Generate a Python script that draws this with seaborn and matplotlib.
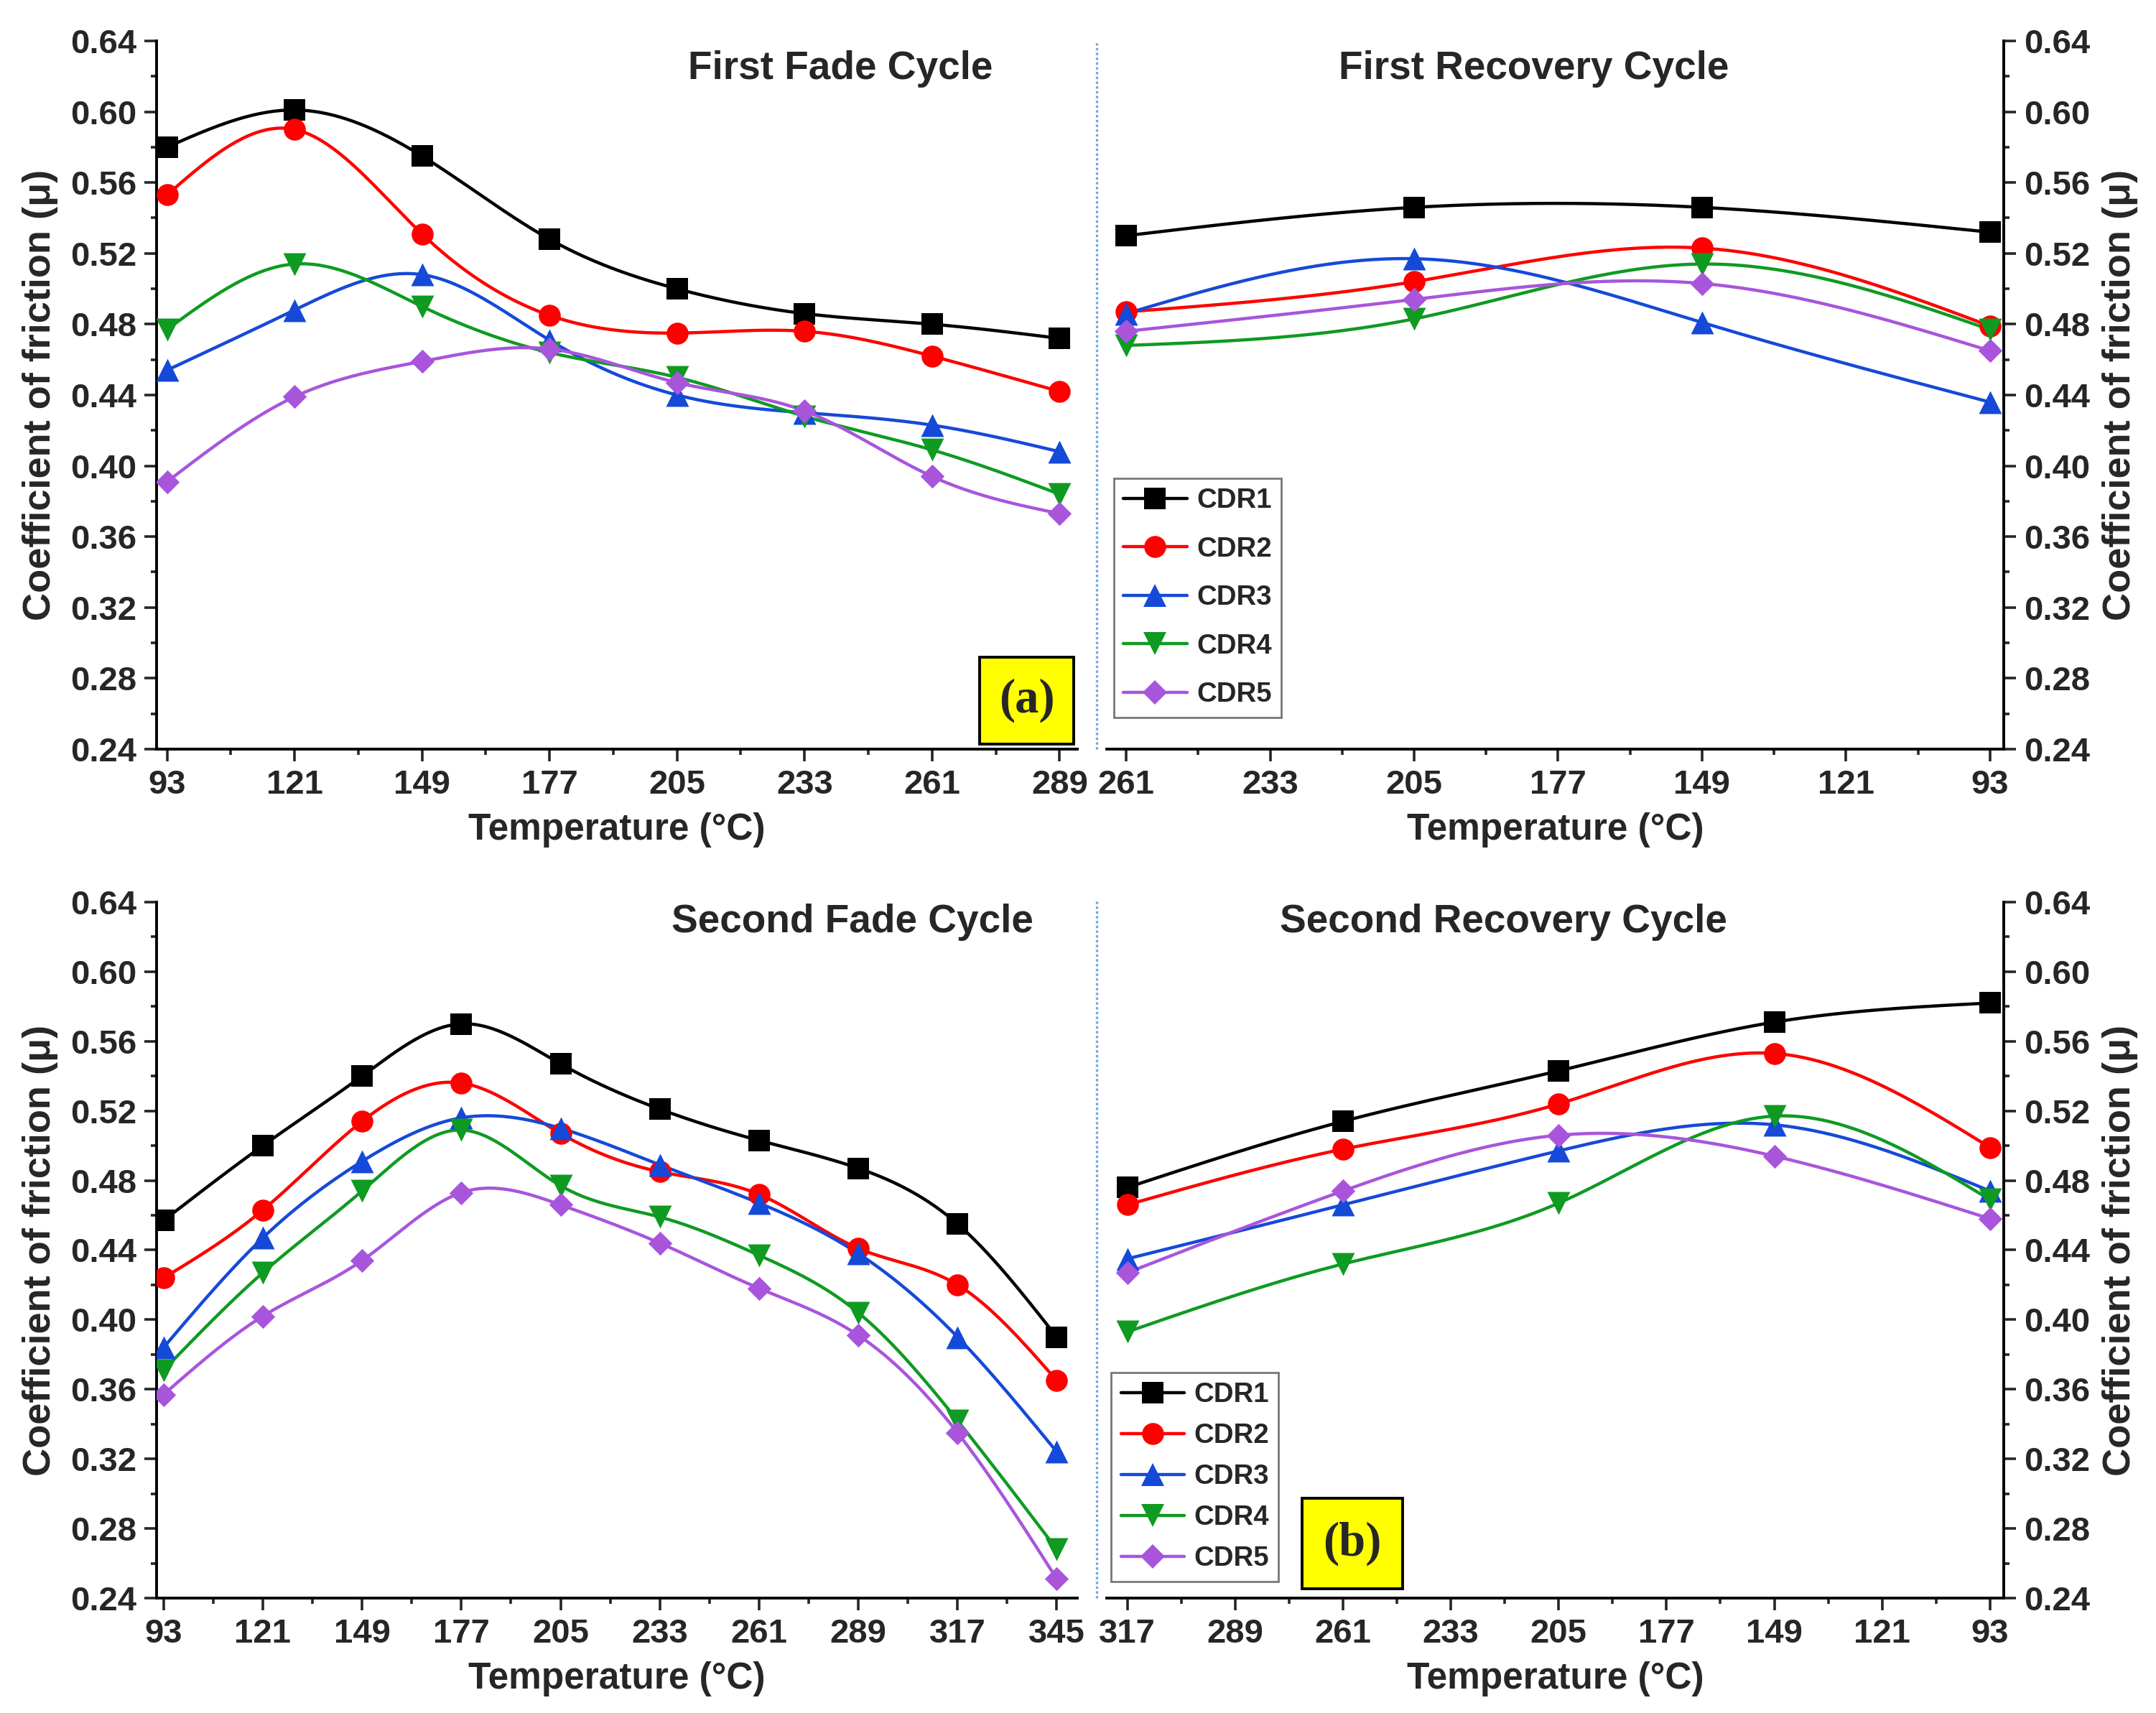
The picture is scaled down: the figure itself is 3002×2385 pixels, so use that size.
import numpy as np
import pandas as pd
import matplotlib
matplotlib.use('Agg')
import matplotlib.pyplot as plt
import seaborn as sns
from matplotlib.lines import Line2D
from matplotlib.patches import Rectangle
from matplotlib.ticker import FixedLocator, FormatStrFormatter, MultipleLocator

# ---- data ----
series_names = ['CDR1', 'CDR2', 'CDR3', 'CDR4', 'CDR5']

temp_fade1 = [93, 121, 149, 177, 205, 233, 261, 289]
fade1_cdr1 = [0.580, 0.601, 0.575, 0.528, 0.500, 0.486, 0.480, 0.472]
fade1_cdr2 = [0.553, 0.590, 0.531, 0.485, 0.475, 0.476, 0.462, 0.442]
fade1_cdr3 = [0.454, 0.488, 0.508, 0.471, 0.440, 0.430, 0.423, 0.408]
fade1_cdr4 = [0.477, 0.514, 0.490, 0.464, 0.450, 0.428, 0.409, 0.384]
fade1_cdr5 = [0.391, 0.439, 0.459, 0.466, 0.447, 0.431, 0.394, 0.373]

temp_rec1 = [261, 205, 149, 93]
rec1_cdr1 = [0.530, 0.546, 0.546, 0.532]
rec1_cdr2 = [0.487, 0.504, 0.523, 0.479]
rec1_cdr3 = [0.486, 0.517, 0.481, 0.436]
rec1_cdr4 = [0.468, 0.483, 0.514, 0.477]
rec1_cdr5 = [0.476, 0.494, 0.503, 0.465]

temp_fade2 = [93, 121, 149, 177, 205, 233, 261, 289, 317, 345]
fade2_cdr1 = [0.457, 0.500, 0.540, 0.570, 0.547, 0.521, 0.503, 0.487, 0.455, 0.390]
fade2_cdr2 = [0.424, 0.463, 0.514, 0.536, 0.507, 0.485, 0.472, 0.441, 0.420, 0.365]
fade2_cdr3 = [0.384, 0.447, 0.491, 0.516, 0.510, 0.489, 0.467, 0.438, 0.390, 0.324]
fade2_cdr4 = [0.371, 0.427, 0.474, 0.509, 0.477, 0.459, 0.437, 0.404, 0.342, 0.268]
fade2_cdr5 = [0.357, 0.402, 0.434, 0.473, 0.466, 0.444, 0.418, 0.391, 0.335, 0.251]

temp_rec2 = [317, 261, 205, 149, 93]
rec2_cdr1 = [0.476, 0.514, 0.543, 0.571, 0.582]
rec2_cdr2 = [0.466, 0.498, 0.524, 0.553, 0.499]
rec2_cdr3 = [0.435, 0.466, 0.497, 0.512, 0.474]
rec2_cdr4 = [0.393, 0.432, 0.467, 0.517, 0.469]
rec2_cdr5 = [0.427, 0.474, 0.506, 0.494, 0.458]

colors = ['#000000', '#ff0000', '#1549d8', '#0f9a22', '#a855dc']
markers = ['s', 'o', '^', 'v', 'D']
msizes = [10.5, 11, 11.5, 11.5, 8.5]

sns.set_theme(style='ticks')
plt.rcParams['font.family'] = ['Liberation Sans', 'DejaVu Sans']
plt.rcParams['font.weight'] = 'bold'
plt.rcParams['axes.labelweight'] = 'bold'


def spline_curve(x, y, n=300):
    """natural cubic spline through the points (Origin style connector)"""
    x = np.asarray(x, float)
    y = np.asarray(y, float)
    order = np.argsort(x)
    x, y = x[order], y[order]
    k = len(x)
    h = np.diff(x)
    A = np.zeros((k, k))
    r = np.zeros(k)
    A[0, 0] = A[-1, -1] = 1
    for i in range(1, k - 1):
        A[i, i - 1] = h[i - 1]
        A[i, i] = 2 * (h[i - 1] + h[i])
        A[i, i + 1] = h[i]
        r[i] = 6 * ((y[i + 1] - y[i]) / h[i] - (y[i] - y[i - 1]) / h[i - 1])
    M = np.linalg.solve(A, r)
    xs = np.linspace(x[0], x[-1], n)
    idx = np.clip(np.searchsorted(x, xs) - 1, 0, k - 2)
    x0, x1 = x[idx], x[idx + 1]
    hh = x1 - x0
    t0, t1 = x1 - xs, xs - x0
    ys = (M[idx] * t0 ** 3 / (6 * hh) + M[idx + 1] * t1 ** 3 / (6 * hh)
          + (y[idx] / hh - M[idx] * hh / 6) * t0
          + (y[idx + 1] / hh - M[idx + 1] * hh / 6) * t1)
    return xs, ys


def draw_panel(ax, temps, series, xlim, ticks, side, title, title_x, title_y):
    for vals, c, m, ms in zip(series, colors, markers, msizes):
        xs, ys = spline_curve(temps, vals)
        sns.lineplot(x=xs, y=ys, ax=ax, color=c, lw=1.6, sort=False,
                     estimator=None, legend=False, zorder=2)
        sns.scatterplot(x=temps, y=vals, ax=ax, marker=m, s=ms ** 2, color=c,
                        edgecolor=c, linewidth=0, legend=False, zorder=3)

    ax.set_xlim(*xlim)
    ax.set_ylim(0.24, 0.64)
    ax.xaxis.set_major_locator(FixedLocator(ticks))
    ax.xaxis.set_minor_locator(FixedLocator(np.arange(79, 360, 28)))
    ax.yaxis.set_major_locator(MultipleLocator(0.04))
    ax.yaxis.set_minor_locator(MultipleLocator(0.02))
    ax.yaxis.set_major_formatter(FormatStrFormatter('%.2f'))
    ax.tick_params(which='major', direction='out', length=6, width=1.3,
                   labelsize=17, pad=4)
    ax.tick_params(which='minor', direction='out', length=3, width=1.3)
    for lab in ax.get_xticklabels() + ax.get_yticklabels():
        lab.set_fontweight('bold')

    ax.spines['top'].set_visible(False)
    if side == 'left':
        ax.spines['right'].set_visible(False)
    else:
        ax.spines['left'].set_visible(False)
        ax.yaxis.tick_right()
        ax.yaxis.set_label_position('right')
    for sp in ax.spines.values():
        sp.set_linewidth(1.4)
        sp.set_color('black')

    ax.set_xlabel('Temperature (°C)', fontsize=18.5, fontweight='bold', labelpad=6)
    ax.set_ylabel('Coefficient of friction (μ)', fontsize=19.5, fontweight='bold',
                  labelpad=6)
    ax.text(title_x, title_y, title, transform=ax.transAxes, ha='center',
            va='center', fontsize=19.8, fontweight='bold')


def add_legend(ax, anchor, spacing):
    handles = [Line2D([0], [0], color=c, marker=m, markersize=ms, lw=1.6,
                      markeredgewidth=0)
               for c, m, ms in zip(colors, markers, msizes)]
    leg = ax.legend(handles, series_names, loc='lower left', bbox_to_anchor=anchor,
                    frameon=True, fancybox=False, edgecolor='#555555',
                    prop={'weight': 'bold', 'size': 13.8}, handlelength=2.3,
                    labelspacing=spacing, borderpad=0.35, handletextpad=0.35,
                    borderaxespad=0)
    leg.get_frame().set_linewidth(1.0)


def add_tag(ax, x0, y0, w, h, text):
    ax.add_patch(Rectangle((x0, y0), w, h, transform=ax.transAxes, facecolor='#ffff00',
                           edgecolor='black', lw=1.4, clip_on=False, zorder=5))
    ax.text(x0 + w / 2, y0 + h / 2, text, transform=ax.transAxes, ha='center',
            va='center', fontsize=24, fontweight='bold',
            family=['Liberation Serif', 'DejaVu Serif'], zorder=6)


fig = plt.figure(figsize=(15.01, 11.925), dpi=200)
ax_tl = fig.add_axes([0.0726, 0.5627, 0.4271, 0.4134])
ax_tr = fig.add_axes([0.5133, 0.5627, 0.4161, 0.4134])
ax_bl = fig.add_axes([0.0726, 0.0671, 0.4271, 0.4063])
ax_br = fig.add_axes([0.5133, 0.0671, 0.4161, 0.4063])

draw_panel(ax_tl, temp_fade1, [fade1_cdr1, fade1_cdr2, fade1_cdr3, fade1_cdr4, fade1_cdr5],
           (90.7, 292.9), np.arange(93, 290, 28), 'left', 'First Fade Cycle', 0.743, 0.96)
draw_panel(ax_tr, temp_rec1, [rec1_cdr1, rec1_cdr2, rec1_cdr3, rec1_cdr4, rec1_cdr5],
           (264.8, 90.3), np.arange(93, 262, 28), 'right', 'First Recovery Cycle', 0.476, 0.96)
draw_panel(ax_bl, temp_fade2, [fade2_cdr1, fade2_cdr2, fade2_cdr3, fade2_cdr4, fade2_cdr5],
           (91.0, 350.8), np.arange(93, 346, 28), 'left', 'Second Fade Cycle', 0.756, 0.971)
draw_panel(ax_br, temp_rec2, [rec2_cdr1, rec2_cdr2, rec2_cdr3, rec2_cdr4, rec2_cdr5],
           (322.4, 89.4), np.arange(93, 318, 28), 'right', 'Second Recovery Cycle', 0.442, 0.971)

add_legend(ax_tr, (0.008, 0.045), 0.82)
add_legend(ax_br, (0.005, 0.024), 0.55)
add_tag(ax_tl, 0.894, 0.007, 0.102, 0.123, '(a)')
add_tag(ax_br, 0.218, 0.013, 0.112, 0.130, '(b)')

# dotted separators between the fade and recovery panels
sep_kw = dict(transform=fig.transFigure, color='#6fa8e0', lw=1.2, ls=(0, (1, 1)))
fig.add_artist(Line2D([0.5087, 0.5087], [0.5627, 0.976], **sep_kw))
fig.add_artist(Line2D([0.5087, 0.5087], [0.0671, 0.4743], **sep_kw))

fig.savefig('out.png', dpi=200, facecolor='white')
